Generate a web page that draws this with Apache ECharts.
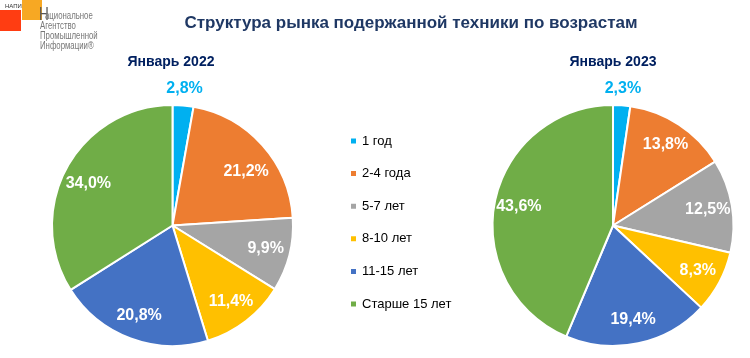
<!DOCTYPE html>
<html><head><meta charset="utf-8">
<script src="https://cdn.jsdelivr.net/npm/echarts@6/dist/echarts.min.js"></script>
<style>html,body{margin:0;padding:0;background:#fff}#c{width:750px;height:358px}</style>
</head><body><div id="c"></div>
<script>
const categories = ['1 год', '2-4 года', '5-7 лет', '8-10 лет', '11-15 лет', 'Старше 15 лет'];
const values2022 = [2.8, 21.2, 9.9, 11.4, 20.8, 34.0];
const values2023 = [2.3, 13.8, 12.5, 8.3, 19.4, 43.6];
const colors = ['#00B0F0', '#ED7D31', '#A5A5A5', '#FFC000', '#4472C4', '#70AD47'];
const titleText = 'Структура рынка подержанной техники по возрастам';
const subtitles = ['Январь 2022', 'Январь 2023'];

const FONT = '"Liberation Sans", Arial, sans-serif';
const R = 120.5;
const fmt = p => p.value.toFixed(1).replace('.', ',') + '%';

function pieSeries(vals, cx, nudge) {
  const main = {
    type: 'pie', center: [cx, 225.5], radius: [0, R], startAngle: 90, clockwise: true,
    silent: true, animation: false,
    itemStyle: { borderColor: '#fff', borderWidth: 2 },
    label: { show: false }, labelLine: { show: false },
    data: vals.map((v, i) => ({ name: categories[i], value: v, itemStyle: { color: colors[i] } }))
  };
  const inner = {
    type: 'pie', center: [cx, 225.5], radius: [R * 0.545, R], startAngle: 90,
    silent: true, animation: false,
    itemStyle: { color: 'transparent' },
    label: { show: true, position: 'inside', formatter: fmt, color: '#fff',
             fontFamily: FONT, fontWeight: 'bold', fontSize: 16 },
    labelLine: { show: false },
    labelLayout: p => (nudge && nudge[p.dataIndex]) ? nudge[p.dataIndex] : {},
    data: vals.map((v, i) => ({ name: categories[i], value: v, label: { show: i !== 0 } }))
  };
  const outer = {
    type: 'pie', center: [cx, 225.5], radius: [R + 4, R + 24], startAngle: 90,
    silent: true, animation: false,
    itemStyle: { color: 'transparent' },
    label: { show: true, position: 'inside', formatter: fmt, color: '#00B0F0',
             fontFamily: FONT, fontWeight: 'bold', fontSize: 16 },
    labelLine: { show: false },
    data: vals.map((v, i) => ({ name: categories[i], value: v, label: { show: i === 0 } }))
  };
  return [main, inner, outer];
}

const chart = echarts.init(document.getElementById('c'), null, { renderer: 'canvas' });
chart.setOption({
  animation: false,
  color: colors,
  title: [
    { text: titleText, left: 406, top: 10, textAlign: 'center',
      textStyle: { fontFamily: FONT, fontSize: 17, fontWeight: 'bold', color: '#1F3864' } },
    { text: subtitles[0], left: 166, top: 50, textAlign: 'center',
      textStyle: { fontFamily: FONT, fontSize: 14, fontWeight: 'bold', color: '#002060' } },
    { text: subtitles[1], left: 608, top: 50, textAlign: 'center',
      textStyle: { fontFamily: FONT, fontSize: 14, fontWeight: 'bold', color: '#002060' } }
  ],
  legend: {
    orient: 'vertical', left: 344, top: 129, data: categories,
    icon: 'rect', itemWidth: 7, itemHeight: 7, itemGap: 18.6,
    selectedMode: false,
    textStyle: { fontFamily: FONT, fontSize: 13, color: '#000', lineHeight: 14 }
  },
  graphic: [
    { type: 'rect', shape: { x: 0, y: 10, width: 21, height: 21 }, style: { fill: '#FF3D12' } },
    { type: 'rect', shape: { x: 22, y: 0, width: 20, height: 20 }, style: { fill: '#F7A823' } },
    { type: 'text', style: { x: 5, y: 3, text: 'НАПИ', font: '6px ' + FONT, fill: '#333' } },
    { type: 'text', x: 39, y: 6, scaleX: 0.75,
      style: { x: 0, y: 0, text: 'Н', font: '18px ' + FONT, fill: '#555' } },
    { type: 'text', x: 45, y: 11, scaleX: 0.78,
      style: { x: 0, y: 0, text: 'ациональное', font: '10px ' + FONT, fill: '#777' } },
    { type: 'text', x: 40, y: 21, scaleX: 0.78,
      style: { x: 0, y: 0, text: 'Агентство\nПромышленной\nИнформации®', lineHeight: 10,
               font: '10px ' + FONT, fill: '#777' } }
  ],
  series: [
    ...pieSeries(values2022, 172.5, { 1: { dx: 2, dy: 10 }, 5: { dy: 4 } }),
    ...pieSeries(values2023, 613, null)
  ]
});
</script></body></html>
